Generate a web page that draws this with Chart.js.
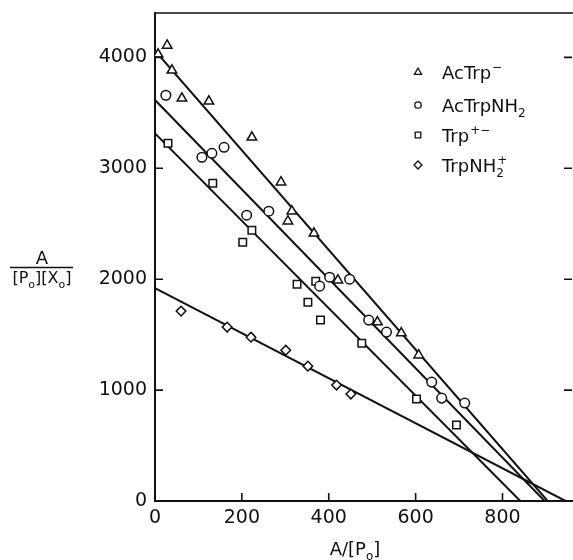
<!DOCTYPE html>
<html><head><meta charset="utf-8">
<script src="https://cdn.jsdelivr.net/npm/chart.js@4/dist/chart.umd.min.js"></script>
<style>html,body{margin:0;padding:0;background:#fff}#w{width:573px;height:560px}</style>
</head><body><div id="w"><canvas id="c" width="573" height="560"></canvas></div>
<script>
// ---- data ----
const xTicks = [0, 200, 400, 600, 800];
const yTicks = [0, 1000, 2000, 3000, 4000];

const acTrpX = [7, 28, 39, 62, 124, 223, 290, 315, 306, 366, 421, 512, 567, 607];
const acTrpY = [4027, 4108, 3883, 3631, 3604, 3279, 2874, 2613, 2523, 2414, 1991, 1613, 1514, 1315];

const acTrpNH2X = [25, 108, 131, 159, 211, 262, 379, 402, 448, 492, 533, 637, 660, 713];
const acTrpNH2Y = [3658, 3099, 3135, 3189, 2577, 2613, 1937, 2018, 2000, 1631, 1523, 1072, 928, 883];

const trpX = [30, 133, 202, 223, 327, 370, 352, 381, 476, 602, 694];
const trpY = [3225, 2865, 2333, 2441, 1955, 1982, 1793, 1631, 1423, 919, 685];

const trpNH2X = [60, 166, 221, 301, 352, 418, 451];
const trpNH2Y = [1712, 1568, 1477, 1360, 1216, 1045, 964];

// fitted straight lines (intercepts)
const fitAcTrpX = [0, 904];     const fitAcTrpY = [4060, 0];
const fitAcTrpNH2X = [0, 897];  const fitAcTrpNH2Y = [3615, 0];
const fitTrpX = [0, 841];       const fitTrpY = [3315, 0];
const fitTrpNH2X = [0, 945];    const fitTrpNH2Y = [1920, 0];

const legendLabels = [
  [{t: 'AcTrp', sup: '\u2212'}],
  [{t: 'AcTrpNH', sub: '2'}],
  [{t: 'Trp', sup: '+\u2212'}],
  [{t: 'TrpNH', sub: '2', sup: '+'}]
];
const legendStyles = ['triangle', 'circle', 'rect', 'diamond'];

// ---- helpers ----
const FAM = '"DejaVu Sans", sans-serif';
const INK = '#111';
const pts = (xs, ys) => xs.map((x, i) => ({x: x, y: ys[i]}));

function drawRich(ctx, segs, x, y, align, size) {
  const small = Math.round(size * 0.66);
  const f = s => s + 'px ' + FAM;
  let total = 0; const ws = [];
  for (const s of segs) {
    ctx.font = f(size); const w = s.t ? ctx.measureText(s.t).width : 0;
    ctx.font = f(small);
    const wb = s.sub ? ctx.measureText(s.sub).width : 0;
    const wp = s.sup ? ctx.measureText(s.sup).width : 0;
    ws.push([w, wb, wp]); total += w + Math.max(wb, wp);
  }
  let cx = align === 'center' ? x - total / 2 : x;
  ctx.textAlign = 'left'; ctx.textBaseline = 'alphabetic'; ctx.fillStyle = INK;
  segs.forEach((s, i) => {
    const [w, wb, wp] = ws[i];
    if (s.t) { ctx.font = f(size); ctx.fillText(s.t, cx, y); cx += w; }
    ctx.font = f(small);
    if (s.sub) ctx.fillText(s.sub, cx, y + 5);
    if (s.sup) ctx.fillText(s.sup, cx + 1, y - 8);
    cx += Math.max(wb, wp);
  });
}

function marker(ctx, style, x, y, r) {
  ctx.beginPath();
  if (style === 'triangle') { ctx.moveTo(x, y - r); ctx.lineTo(x + r * 0.9, y + r * 0.6); ctx.lineTo(x - r * 0.9, y + r * 0.6); ctx.closePath(); }
  else if (style === 'circle') { ctx.arc(x, y, r * 0.8, 0, Math.PI * 2); }
  else if (style === 'rect') { ctx.rect(x - r * 0.7, y - r * 0.7, r * 1.4, r * 1.4); }
  else { ctx.moveTo(x, y - r); ctx.lineTo(x + r, y); ctx.lineTo(x, y + r); ctx.lineTo(x - r, y); ctx.closePath(); }
  ctx.stroke();
}

const decor = {
  id: 'decor',
  afterDraw(chart) {
    const ctx = chart.ctx, a = chart.chartArea, xs = chart.scales.x, ys = chart.scales.y;
    ctx.save();
    ctx.strokeStyle = INK; ctx.lineWidth = 1.6;
    // top frame line
    ctx.beginPath(); ctx.moveTo(a.left, a.top); ctx.lineTo(573, a.top); ctx.stroke();
    // inward ticks
    ctx.beginPath();
    for (const v of yTicks) {
      if (v === 0) continue;
      const py = ys.getPixelForValue(v);
      ctx.moveTo(a.left, py); ctx.lineTo(a.left + 8, py);
      ctx.moveTo(a.right, py); ctx.lineTo(a.right - 8, py);
    }
    for (const v of xTicks) {
      if (v === 0) continue;
      const px = xs.getPixelForValue(v);
      ctx.moveTo(px, a.bottom); ctx.lineTo(px, a.bottom - 8);
    }
    ctx.stroke();
    // legend
    ctx.lineWidth = 1.3;
    const rows = [72, 105, 135, 165];
    rows.forEach((ry, i) => {
      marker(ctx, legendStyles[i], 418, ry, 4);
      drawRich(ctx, legendLabels[i], 442, ry + 7, 'left', 18);
    });
    // y-axis title (fraction)
    ctx.fillStyle = INK; ctx.font = '18px ' + FAM; ctx.textAlign = 'center'; ctx.textBaseline = 'alphabetic';
    ctx.fillText('A', 42, 264);
    ctx.lineWidth = 1.5;
    ctx.beginPath(); ctx.moveTo(10, 267.5); ctx.lineTo(73, 267.5); ctx.stroke();
    drawRich(ctx, [{t: '[P', sub: 'o'}, {t: '][X', sub: 'o'}, {t: ']'}], 42, 283, 'center', 16);
    // x-axis title
    drawRich(ctx, [{t: 'A/[P', sub: 'o'}, {t: ']'}], 355, 555, 'center', 18);
    ctx.restore();
  }
};

const lineDs = (xs, ys) => ({
  data: pts(xs, ys), showLine: true, borderColor: INK, borderWidth: 2,
  pointRadius: 0, fill: false, order: 2
});
const ptDs = (xs, ys, style, r) => ({
  data: pts(xs, ys), showLine: false, pointStyle: style, pointRadius: r,
  pointBorderColor: INK, pointBackgroundColor: '#fff', pointBorderWidth: 1.5, order: 1
});

new Chart(document.getElementById('c'), {
  type: 'scatter',
  data: {
    datasets: [
      lineDs(fitAcTrpX, fitAcTrpY),
      lineDs(fitAcTrpNH2X, fitAcTrpNH2Y),
      lineDs(fitTrpX, fitTrpY),
      lineDs(fitTrpNH2X, fitTrpNH2Y),
      ptDs(acTrpX, acTrpY, 'triangle', 5.5),
      ptDs(acTrpNH2X, acTrpNH2Y, 'circle', 4.8),
      ptDs(trpX, trpY, 'rect', 5.3),
      ptDs(trpNH2X, trpNH2Y, 'rectRot', 4.8)
    ]
  },
  options: {
    responsive: false, animation: false,
    layout: {autoPadding: false, padding: {top: 13, right: 1, left: 0, bottom: 0}},
    plugins: {legend: {display: false}, tooltip: {enabled: false}},
    scales: {
      x: {
        type: 'linear', min: 0, max: 960,
        afterBuildTicks: s => { s.ticks = xTicks.map(v => ({value: v})); },
        afterFit: s => { s.height = 59; s.paddingLeft = 0; s.paddingRight = 0; },
        ticks: {font: {family: FAM, size: 19}, color: INK, padding: 6, maxRotation: 0, autoSkip: false,
                callback: v => String(v)},
        grid: {display: false, drawTicks: false},
        border: {display: true, color: INK, width: 2}
      },
      y: {
        type: 'linear', min: 0, max: 4400,
        afterBuildTicks: s => { s.ticks = yTicks.map(v => ({value: v})); },
        afterFit: s => { s.width = 155; s.paddingTop = 0; s.paddingBottom = 0; },
        ticks: {font: {family: FAM, size: 19}, color: INK, padding: 8, autoSkip: false,
                callback: v => String(v)},
        grid: {display: false, drawTicks: false},
        border: {display: true, color: INK, width: 2}
      }
    }
  },
  plugins: [decor]
});
</script>
</body></html>
